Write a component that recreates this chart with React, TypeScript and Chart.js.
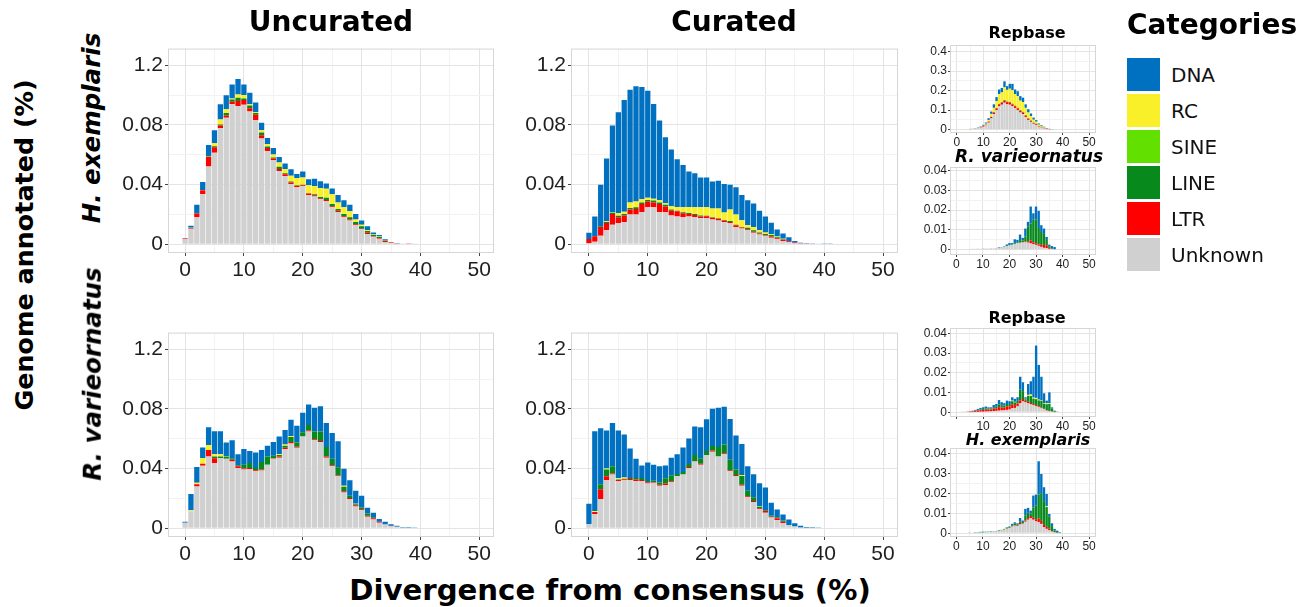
import React, { useEffect, useRef } from "react";
import { Chart, registerables } from "chart.js";

Chart.register(...registerables);

// ---------------- categories / ticks ----------------
const bins = [0, 1, 2, 3, 4, 5, 6, 7, 8, 9, 10, 11, 12, 13, 14, 15, 16, 17, 18, 19, 20, 21, 22, 23, 24, 25, 26, 27, 28, 29, 30, 31, 32, 33, 34, 35, 36, 37, 38, 39, 40, 41, 42, 43, 44, 45, 46, 47, 48, 49, 50];
const categories = ["DNA", "RC", "SINE", "LINE", "LTR", "Unknown"];
const categoryColors = ["#0070C0", "#FAF02A", "#62E000", "#07891C", "#FF0000", "#D0D0D0"];

const xMajorTicks = [0, 10, 20, 30, 40, 50];
const xMajorLabels = ["0", "10", "20", "30", "40", "50"];
const xMajorLabelsNoZero = ["", "10", "20", "30", "40", "50"];
const xMinorTicks = [5, 15, 25, 35, 45];

const mainYTicks = [0, 0.04, 0.08, 0.12];
const mainYLabels = ["0", "0.04", "0.08", "1.2"];
const mainYMinor = [0.02, 0.06, 0.1];

const repYTicks = [0, 0.1, 0.2, 0.3, 0.4];
const repYLabels = ["0", "0.1", "0.2", "0.3", "0.4"];
const repYMinor = [0.05, 0.15, 0.25, 0.35];

const smallYTicks = [0, 0.01, 0.02, 0.03, 0.04];
const smallYLabels = ["0", "0.01", "0.02", "0.03", "0.04"];
const smallYMinor = [0.005, 0.015, 0.025, 0.035];

// ---------------- H. exemplaris, uncurated ----------------
const hexUncUnknown = [0.0035, 0.0103, 0.018, 0.0334, 0.052, 0.0613, 0.0779, 0.0847, 0.094, 0.0927, 0.0934, 0.089, 0.0831, 0.0709, 0.0624, 0.0563, 0.0491, 0.0456, 0.0404, 0.0382, 0.0388, 0.0329, 0.0319, 0.0301, 0.029, 0.0247, 0.0214, 0.0181, 0.0159, 0.0127, 0.01, 0.0068, 0.005, 0.0037, 0.0015, 0.0008, 0.0005, 0.0004, 0.0002, 0.0002];
const hexUncLTR = [0.0003, 0.0005, 0.0026, 0.0028, 0.0065, 0.0037, 0.0017, 0.0015, 0.0015, 0.0033, 0.0033, 0.0022, 0.0037, 0.0022, 0.002, 0.0011, 0.0013, 0.0013, 0.0009, 0.0009, 0.0007, 0.0011, 0.0009, 0.0007, 0.0007, 0.0007, 0.0011, 0.0007, 0.0007, 0.0007, 0.0004, 0.0009, 0.0004, 0.0004, 0.0007, 0.0004, 0.0002, 0.0001, 0.0001, 0];
const hexUncLINE = [0, 0, 0.0003, 0, 0.0002, 0.0007, 0.0007, 0.0017, 0.0015, 0.0022, 0.0009, 0.0017, 0.0011, 0.0017, 0.0011, 0.0007, 0.0015, 0.0007, 0.0007, 0.0004, 0.0004, 0.0002, 0.0007, 0.0009, 0.0015, 0.0015, 0.0011, 0.0015, 0.0015, 0.0015, 0.0017, 0.0011, 0.0007, 0.0007, 0.0002, 0, 0, 0, 0, 0];
const hexUncSINE: number[] = [];
const hexUncRC = [0, 0.0003, 0, 0.0002, 0.0004, 0.002, 0.0033, 0.0026, 0.0007, 0.0022, 0.0024, 0.0009, 0.0007, 0.0015, 0.0015, 0.002, 0.0028, 0.0028, 0.0039, 0.0048, 0.0048, 0.0053, 0.0055, 0.0059, 0.0059, 0.0065, 0.0044, 0.0044, 0.0039, 0.0017, 0.0009, 0.0007, 0.0004, 0.0004, 0.0003, 0.0001, 0, 0, 0, 0];
const hexUncDNA = [0.0002, 0.0012, 0.0055, 0.0053, 0.0074, 0.0087, 0.0102, 0.0094, 0.0094, 0.0104, 0.0071, 0.0077, 0.0063, 0.0051, 0.0041, 0.0044, 0.0037, 0.0037, 0.0044, 0.0028, 0.004, 0.0041, 0.0048, 0.0046, 0.0035, 0.0039, 0.005, 0.0048, 0.0044, 0.0037, 0.0029, 0.0026, 0.0013, 0.0009, 0.0006, 0.0002, 0.0001, 0, 0, 0];

// ---------------- H. exemplaris, curated ----------------
const hexCurUnknown = [0.0007, 0.0017, 0.0057, 0.0094, 0.0131, 0.0142, 0.0148, 0.0199, 0.0199, 0.0214, 0.0247, 0.0247, 0.0214, 0.0214, 0.0192, 0.0185, 0.0181, 0.0185, 0.0181, 0.0175, 0.0175, 0.0166, 0.0159, 0.0148, 0.0142, 0.0116, 0.0105, 0.0094, 0.0076, 0.0065, 0.0057, 0.0044, 0.0033, 0.0022, 0.0013, 0.0007, 0.0004, 0.0002, 0.0001, 0.0001, 0, 0];
const hexCurLTR = [0.0028, 0.0037, 0.0059, 0.0048, 0.0072, 0.0039, 0.0044, 0.0033, 0.0037, 0.0055, 0.0039, 0.0033, 0.0055, 0.0039, 0.0033, 0.0035, 0.0026, 0.0017, 0.0015, 0.0011, 0.0013, 0.0011, 0.0011, 0.0011, 0.0007, 0.0011, 0.0007, 0.0007, 0.0007, 0.0007, 0.0004, 0.0007, 0.0007, 0.0007, 0.0007, 0.0004, 0.0002, 0.0001, 0.0001, 0, 0, 0];
const hexCurLINE = [0, 0, 0.0004, 0.0007, 0.0007, 0.0009, 0.0011, 0.0011, 0.0011, 0.0011, 0.0011, 0.0013, 0.0011, 0.0011, 0.0007, 0.0004, 0.0007, 0.0007, 0.0007, 0.0007, 0.0002, 0.0004, 0.0004, 0.0004, 0.0007, 0.0004, 0.0004, 0.0009, 0.0011, 0.0007, 0.0007, 0.0011, 0.0007, 0.0004, 0, 0, 0, 0, 0, 0, 0, 0];
const hexCurSINE: number[] = [];
const hexCurRC = [0, 0, 0, 0.0004, 0.0004, 0.0017, 0.0015, 0.0037, 0.0039, 0.0022, 0.0015, 0.0011, 0.0015, 0.0011, 0.0022, 0.0026, 0.0033, 0.0041, 0.0044, 0.0055, 0.0059, 0.0059, 0.0065, 0.005, 0.0076, 0.0068, 0.0044, 0.0017, 0.0022, 0.0015, 0.0011, 0.0007, 0.0004, 0.0004, 0, 0, 0, 0, 0, 0, 0, 0];
const hexCurDNA = [0.0041, 0.0131, 0.0279, 0.0421, 0.0582, 0.0677, 0.0749, 0.0756, 0.0772, 0.0752, 0.0716, 0.0636, 0.0534, 0.0441, 0.0381, 0.032, 0.0283, 0.0237, 0.0229, 0.0199, 0.0198, 0.0181, 0.0186, 0.0191, 0.0167, 0.0183, 0.017, 0.0168, 0.0157, 0.0131, 0.0107, 0.0074, 0.0048, 0.0035, 0.0026, 0.0011, 0.0004, 0.0001, 0.0001, 0.0001, 0.0001, 0.0001];

// ---------------- R. varieornatus, uncurated ----------------
const rvaUncUnknown = [0.0037, 0.0113, 0.0279, 0.0419, 0.048, 0.0436, 0.0469, 0.0465, 0.0447, 0.0404, 0.0393, 0.0397, 0.0382, 0.0386, 0.0425, 0.0465, 0.0473, 0.053, 0.0567, 0.0539, 0.0615, 0.0648, 0.0589, 0.0578, 0.0473, 0.0415, 0.0349, 0.024, 0.0196, 0.0146, 0.012, 0.0076, 0.0059, 0.0037, 0.0024, 0.0015, 0.0009, 0.0004, 0, 0];
const rvaUncLTR = [0, 0, 0.0015, 0.0013, 0.0044, 0.0033, 0, 0, 0.0011, 0.0011, 0.0007, 0.0007, 0.0007, 0.0007, 0, 0.0004, 0.0007, 0.0009, 0.0011, 0.0007, 0, 0.0007, 0.0007, 0.0007, 0.0007, 0.0007, 0.0004, 0.0007, 0.0007, 0.0007, 0.0007, 0.0007, 0.0007, 0.0007, 0, 0.0002, 0, 0, 0, 0];
const rvaUncLINE = [0, 0, 0, 0, 0, 0.0011, 0.0011, 0.0015, 0.0011, 0.0007, 0.0026, 0.0033, 0.0015, 0.005, 0.0055, 0.0017, 0.0011, 0.0013, 0.0033, 0.0028, 0.0028, 0.0037, 0.0052, 0.0063, 0.0065, 0.0044, 0.0055, 0.0031, 0.0015, 0.0007, 0.0011, 0.0015, 0.0007, 0, 0, 0, 0, 0, 0, 0];
const rvaUncSINE: number[] = [];
const rvaUncRC = [0, 0.0007, 0.0011, 0.0037, 0.0033, 0.0015, 0.0015, 0.0004, 0, 0, 0, 0, 0, 0, 0, 0, 0.0007, 0.0009, 0.0007, 0, 0, 0, 0, 0, 0, 0, 0, 0.0007, 0, 0.0004, 0, 0, 0, 0, 0, 0, 0, 0, 0, 0];
const rvaUncDNA = [0.0007, 0.0109, 0.0105, 0.0072, 0.012, 0.0155, 0.0155, 0.009, 0.012, 0.0073, 0.0104, 0.008, 0.0104, 0.0081, 0.0072, 0.0092, 0.0117, 0.0098, 0.0109, 0.0113, 0.0131, 0.0137, 0.0159, 0.017, 0.016, 0.0172, 0.0175, 0.0113, 0.0103, 0.0087, 0.008, 0.0039, 0.003, 0.0017, 0.002, 0.0009, 0.0008, 0.0004, 0.0007, 0.0001];

// ---------------- R. varieornatus, curated ----------------
const rvaCurUnknown = [0.0028, 0.0094, 0.0196, 0.0321, 0.036, 0.0316, 0.0321, 0.0323, 0.0316, 0.0316, 0.0299, 0.0305, 0.0284, 0.029, 0.031, 0.0349, 0.036, 0.0404, 0.0447, 0.0425, 0.0491, 0.0513, 0.048, 0.0495, 0.0382, 0.0349, 0.0284, 0.0207, 0.0175, 0.0127, 0.0103, 0.0072, 0.0055, 0.0033, 0.0022, 0.0011, 0.0004, 0.0002, 0, 0];
const rvaCurLTR = [0, 0.0015, 0.0065, 0.0028, 0.0007, 0.0007, 0.0007, 0.0007, 0.0011, 0.0007, 0.0007, 0.0004, 0.0007, 0.0009, 0.0004, 0, 0, 0.0007, 0.0004, 0.0007, 0, 0.0007, 0, 0.0007, 0.0007, 0.0007, 0.0007, 0.0007, 0.0007, 0.0007, 0.0013, 0.0004, 0.0011, 0.0011, 0, 0, 0, 0, 0, 0];
const rvaCurLINE = [0, 0, 0.0033, 0.0044, 0.0048, 0.0004, 0.0004, 0.0007, 0.0009, 0.0013, 0.0011, 0.0009, 0.0015, 0.0035, 0.0041, 0.0015, 0.0017, 0.002, 0.0039, 0.0033, 0.0026, 0.0031, 0.0065, 0.0059, 0.007, 0.0037, 0.0059, 0.0037, 0.0026, 0.0009, 0.0004, 0.0007, 0.0007, 0.0007, 0, 0, 0, 0, 0, 0];
const rvaCurSINE: number[] = [];
const rvaCurRC = [0, 0.0007, 0, 0.0007, 0, 0.0007, 0.0007, 0, 0, 0, 0, 0, 0, 0, 0, 0, 0, 0, 0, 0, 0, 0, 0, 0, 0, 0, 0.0007, 0, 0, 0.0004, 0, 0, 0, 0, 0, 0, 0, 0, 0, 0];
const rvaCurDNA = [0.0136, 0.0534, 0.0376, 0.0255, 0.029, 0.0321, 0.0289, 0.0198, 0.0129, 0.0085, 0.0124, 0.0107, 0.0109, 0.0087, 0.0118, 0.0131, 0.0164, 0.017, 0.0192, 0.0211, 0.0214, 0.025, 0.0262, 0.0253, 0.0273, 0.0229, 0.0207, 0.0164, 0.0153, 0.0155, 0.0153, 0.0087, 0.0052, 0.0041, 0.0037, 0.0022, 0.0013, 0.0005, 0.0007, 0.0001];

// ---------------- H. exemplaris genome, Repbase library ----------------
const hexRepUnknown = [0, 0, 0, 0, 0, 0.002, 0.003, 0.004, 0.006, 0.009, 0.014, 0.022, 0.036, 0.058, 0.08, 0.1, 0.12, 0.128, 0.138, 0.13, 0.128, 0.12, 0.11, 0.1, 0.088, 0.08, 0.064, 0.05, 0.04, 0.03, 0.024, 0.015, 0.011, 0.006, 0.003, 0.002, 0.001];
const hexRepLTR = [0, 0, 0, 0, 0, 0, 0, 0.001, 0.001, 0.002, 0.003, 0.004, 0.005, 0.007, 0.008, 0.009, 0.01, 0.01, 0.011, 0.011, 0.011, 0.01, 0.01, 0.009, 0.008, 0.008, 0.007, 0.006, 0.005, 0.004, 0.004, 0.003, 0.003, 0.003, 0.002, 0.001, 0];
const hexRepLINE = [0, 0, 0, 0, 0, 0, 0, 0, 0, 0, 0, 0, 0.001, 0.001, 0.002, 0.002, 0.002, 0.003, 0.003, 0.003, 0.003, 0.003, 0.003, 0.003, 0.003, 0.003, 0.003, 0.002, 0.002, 0.002, 0.002, 0.001, 0.001, 0.001, 0, 0, 0];
const hexRepSINE: number[] = [];
const hexRepRC = [0, 0, 0, 0, 0, 0.001, 0.001, 0.001, 0.002, 0.002, 0.003, 0.005, 0.008, 0.015, 0.022, 0.035, 0.05, 0.05, 0.065, 0.06, 0.068, 0.07, 0.06, 0.06, 0.05, 0.05, 0.038, 0.03, 0.022, 0.015, 0.011, 0.007, 0.005, 0.003, 0.001, 0.001, 0];
const hexRepDNA = [0, 0, 0, 0, 0, 0.001, 0.001, 0.001, 0.002, 0.003, 0.005, 0.006, 0.009, 0.012, 0.018, 0.021, 0.024, 0.023, 0.031, 0.019, 0.025, 0.032, 0.023, 0.025, 0.023, 0.023, 0.018, 0.017, 0.014, 0.011, 0.008, 0.006, 0.004, 0.002, 0.002, 0.001, 0.001];

// ---------------- H. exemplaris genome, R. varieornatus library ----------------
const hexRvaUnknown = [0, 0, 0.0003, 0.0003, 0.0004, 0.0004, 0.0005, 0.0005, 0.0006, 0.0005, 0.0008, 0.0007, 0.0006, 0.0008, 0.0007, 0.0009, 0.001, 0.0011, 0.0013, 0.0018, 0.0022, 0.0025, 0.003, 0.0033, 0.0035, 0.0037, 0.0038, 0.0036, 0.0032, 0.0028, 0.0025, 0.002, 0.0015, 0.001, 0.0008, 0.0005, 0.0004, 0.0003];
const hexRvaLTR = [0, 0, 0, 0, 0, 0, 0, 0, 0, 0, 0, 0, 0, 0, 0, 0, 0, 0, 0, 0, 0, 0, 0, 0, 0.0002, 0.0002, 0.0004, 0.0005, 0.0015, 0.001, 0.0008, 0.0007, 0.001, 0.0015, 0.0015, 0.0005, 0, 0];
const hexRvaLINE = [0, 0, 0, 0, 0, 0, 0, 0, 0, 0, 0, 0, 0, 0, 0, 0, 0, 0.0002, 0.0002, 0.0002, 0.0002, 0.0002, 0.0005, 0.0005, 0.0012, 0.0008, 0.0025, 0.0075, 0.0085, 0.0116, 0.012, 0.0083, 0.0065, 0.0055, 0.0027, 0.0008, 0.0003, 0];
const hexRvaSINE: number[] = [];
const hexRvaRC: number[] = [];
const hexRvaDNA = [0, 0, 0, 0, 0, 0, 0, 0, 0, 0, 0, 0, 0, 0, 0, 0, 0.0003, 0, 0.0002, 0.0007, 0.001, 0.0007, 0.0018, 0.0012, 0.0028, 0.0013, 0.004, 0.0025, 0.0086, 0.003, 0.0065, 0.0086, 0.0034, 0.0027, 0.0015, 0.0008, 0.0012, 0.0011];

// ---------------- R. varieornatus genome, Repbase library ----------------
const rvaRepUnknown = [0, 0, 0, 0, 0, 0.0001, 0.0001, 0.0002, 0.0002, 0.0003, 0.0003, 0.0004, 0.0004, 0.0005, 0.0006, 0.0007, 0.0008, 0.0009, 0.001, 0.0012, 0.0014, 0.002, 0.0022, 0.003, 0.0045, 0.0055, 0.005, 0.0045, 0.004, 0.0035, 0.003, 0.0025, 0.002, 0.0015, 0.0008, 0.0005, 0.0003, 0.0001, 0];
const rvaRepLTR = [0, 0, 0.0002, 0.0003, 0.0003, 0.0003, 0.0004, 0.0005, 0.0007, 0.0008, 0.0009, 0.001, 0.0009, 0.0009, 0.0012, 0.0013, 0.0018, 0.0015, 0.0013, 0.0018, 0.0016, 0.002, 0.0014, 0.0014, 0.0015, 0.0012, 0.0008, 0.0008, 0.0007, 0.0006, 0.0006, 0.0005, 0.0004, 0.0003, 0.0003, 0.0002, 0.0001, 0, 0];
const rvaRepLINE = [0, 0, 0, 0, 0, 0, 0.0001, 0.0002, 0.0003, 0.0004, 0.0005, 0.0006, 0.0005, 0.0005, 0.0008, 0.0008, 0.0014, 0.0012, 0.0011, 0.0012, 0.0012, 0.0016, 0.0014, 0.0014, 0.0055, 0.004, 0.0008, 0.003, 0.0035, 0.0028, 0.003, 0.003, 0.0035, 0.0025, 0.003, 0.0035, 0.0015, 0.0005, 0.0002];
const rvaRepSINE: number[] = [];
const rvaRepRC = [0, 0, 0, 0, 0, 0, 0, 0, 0, 0, 0, 0, 0, 0, 0, 0, 0, 0, 0, 0, 0, 0.0003, 0.0003, 0, 0, 0, 0.0002, 0.0005, 0.0008, 0.0005, 0.0007, 0.0004, 0.0003, 0.0003, 0.0005, 0.0003];
const rvaRepDNA = [0, 0, 0, 0, 0.0001, 0.0001, 0.0002, 0.0003, 0.0005, 0.0007, 0.0008, 0.0009, 0.0007, 0.0006, 0.0011, 0.0014, 0.0022, 0.0015, 0.0012, 0.0017, 0.0014, 0.0017, 0.0015, 0.0018, 0.0065, 0.0045, 0.0008, 0.0055, 0.0067, 0.0106, 0.0265, 0.0176, 0.0118, 0.005, 0.0013, 0.0056, 0.0006, 0.0002, 0.0001];

// ---------------- R. varieornatus genome, H. exemplaris library ----------------
const rvaHexUnknown = [0, 0, 0, 0, 0, 0.0002, 0.0003, 0.0003, 0.0003, 0.0004, 0.0004, 0.0005, 0.0006, 0.0006, 0.0007, 0.0009, 0.0011, 0.0013, 0.0016, 0.0022, 0.0026, 0.0033, 0.0038, 0.0036, 0.0044, 0.0048, 0.0058, 0.0068, 0.0075, 0.0068, 0.006, 0.0055, 0.0047, 0.003, 0.0022, 0.0015, 0.0008, 0.0004, 0.0002, 0.0001];
const rvaHexLTR = [0, 0, 0, 0, 0, 0, 0, 0, 0, 0, 0, 0, 0, 0, 0, 0, 0, 0, 0.0001, 0.0001, 0.0001, 0.0002, 0.0003, 0.0002, 0.0008, 0.0003, 0.0006, 0.0008, 0.0012, 0.001, 0.0008, 0.002, 0.0015, 0.0012, 0.001, 0.0008, 0.0003, 0.0001];
const rvaHexLINE = [0, 0, 0, 0, 0, 0, 0, 0.0001, 0.0001, 0.0002, 0.0003, 0.0002, 0.0001, 0.0002, 0.0001, 0.0001, 0.0002, 0.0002, 0.0002, 0.0002, 0.0003, 0.0005, 0.0007, 0.0005, 0.0008, 0.0006, 0.0027, 0.0027, 0.0012, 0.0052, 0.0072, 0.012, 0.014, 0.012, 0.01, 0.006, 0.0025, 0.0008, 0.0004, 0.0001];
const rvaHexSINE = [0, 0, 0, 0, 0, 0, 0, 0, 0, 0, 0, 0, 0, 0, 0, 0, 0, 0, 0, 0.0002];
const rvaHexRC = [0, 0, 0, 0, 0, 0, 0, 0, 0, 0, 0, 0, 0, 0, 0, 0, 0, 0.0001, 0.0002, 0, 0, 0, 0, 0, 0, 0, 0, 0, 0, 0, 0, 0, 0, 0, 0.0004];
const rvaHexDNA = [0, 0, 0, 0, 0, 0.0001, 0, 0.0001, 0.0001, 0.0001, 0.0001, 0.0001, 0.0001, 0.0001, 0.0001, 0.0001, 0.0002, 0.0001, 0.0001, 0.0003, 0.0004, 0.0007, 0.0007, 0.0007, 0.0017, 0.0007, 0.0032, 0.0025, 0.0015, 0.006, 0.0055, 0.0168, 0.0097, 0.007, 0.0062, 0.0014, 0.0014, 0.0009, 0.0007, 0.0003];

// ---------------- rendering ----------------
const TITLE_FONT = "'DejaVu Sans', Verdana, sans-serif";
const TICK_FONT = "'Liberation Sans', Arial, sans-serif";

type Series = { unknown: number[]; ltr: number[]; line: number[]; sine: number[]; rc: number[]; dna: number[] };

type PanelProps = {
  left: number; top: number; right: number; bottom: number;
  xMin: number; xMax: number; yMin: number; yMax: number;
  yTicks: number[]; yLabels: string[]; yMinor: number[];
  xLabels: string[];
  series: Series;
  small?: boolean;
};

const panelBorder = {
  id: "panelBorder",
  beforeDatasetsDraw(chart: any) {
    const { ctx, chartArea: a } = chart;
    ctx.save();
    ctx.strokeStyle = "#d6d6d6";
    ctx.lineWidth = 1;
    ctx.strokeRect(a.left + 0.5, a.top + 0.5, a.right - a.left - 1, a.bottom - a.top - 1);
    ctx.restore();
  },
};

function Panel(p: PanelProps) {
  const ref = useRef<HTMLCanvasElement>(null);
  const small = !!p.small;
  const yW = small ? 32 : 62;
  const xH = small ? 15 : 34;
  const padT = 10;
  const padR = 14;
  const W = p.right - p.left + yW + padR;
  const H = p.bottom - p.top + padT + xH;

  useEffect(() => {
    if (!ref.current) return;
    // stacking order bottom -> top
    const stack: [number[], number][] = [
      [p.series.unknown, 5],
      [p.series.ltr, 4],
      [p.series.line, 3],
      [p.series.sine, 2],
      [p.series.rc, 1],
      [p.series.dna, 0],
    ];
    const datasets = stack.map(([arr, ci]) => ({
      label: categories[ci],
      data: bins.map((b, i) => ({ x: b, y: arr[i] ?? 0 })),
      backgroundColor: categoryColors[ci],
      borderWidth: 0,
      barPercentage: 0.9,
      categoryPercentage: 1,
    }));
    const tickFont = { family: TICK_FONT, size: small ? 12 : 21 };
    const isIn = (list: number[], v: number) => list.some((t) => Math.abs(t - v) < 1e-9);
    const chart = new Chart(ref.current, {
      type: "bar",
      data: { datasets } as any,
      options: {
        animation: false,
        responsive: false,
        maintainAspectRatio: false,
        layout: { autoPadding: false, padding: { top: padT, right: padR, left: 0, bottom: 0 } },
        plugins: { legend: { display: false }, tooltip: { enabled: false } },
        scales: {
          x: {
            type: "linear",
            stacked: true,
            offset: false,
            min: p.xMin,
            max: p.xMax,
            afterBuildTicks: (s: any) => {
              s.ticks = [...xMajorTicks, ...xMinorTicks].sort((a, b) => a - b).map((v) => ({ value: v }));
            },
            afterFit: (s: any) => {
              s.height = xH;
            },
            ticks: {
              autoSkip: false,
              maxRotation: 0,
              padding: small ? 0 : 2,
              font: tickFont,
              color: "#1e1e1e",
              callback: (v: any) => {
                const i = xMajorTicks.indexOf(Number(v));
                return i >= 0 ? p.xLabels[i] : "";
              },
            },
            grid: {
              offset: false,
              color: (c: any) => (isIn(xMajorTicks, c.tick?.value) ? "#e4e4e4" : "#f2f2f2"),
              tickColor: (c: any) => (isIn(xMajorTicks, c.tick?.value) ? "#444" : "rgba(0,0,0,0)"),
              tickLength: small ? 2 : 3,
              lineWidth: 1,
            },
            border: { display: false },
          },
          y: {
            type: "linear",
            stacked: true,
            min: p.yMin,
            max: p.yMax,
            afterBuildTicks: (s: any) => {
              s.ticks = [...p.yTicks, ...p.yMinor].sort((a, b) => a - b).map((v) => ({ value: v }));
            },
            afterFit: (s: any) => {
              s.width = yW;
            },
            ticks: {
              autoSkip: false,
              padding: small ? 1 : 2,
              font: tickFont,
              color: "#1e1e1e",
              callback: (v: any) => {
                const n = Number(v);
                const i = p.yTicks.findIndex((t) => Math.abs(t - n) < 1e-9);
                return i >= 0 ? p.yLabels[i] : "";
              },
            },
            grid: {
              color: (c: any) => (isIn(p.yTicks, c.tick?.value) ? "#e4e4e4" : "#f2f2f2"),
              tickColor: (c: any) => (isIn(p.yTicks, c.tick?.value) ? "#444" : "rgba(0,0,0,0)"),
              tickLength: small ? 2 : 3,
              lineWidth: 1,
            },
            border: { display: false },
          },
        },
      } as any,
      plugins: [panelBorder],
    });
    return () => chart.destroy();
  }, []);

  return (
    <canvas
      ref={ref}
      width={W}
      height={H}
      style={{ position: "absolute", left: p.left - yW, top: p.top - padT, width: W, height: H }}
    />
  );
}

function Text(props: { x: number; y: number; text: string; size: number; italic?: boolean; rotate?: boolean; bold?: boolean }) {
  const bold = props.bold !== false;
  return (
    <div
      style={{
        position: "absolute",
        left: props.x,
        top: props.y,
        transform: `translate(-50%, -50%)${props.rotate ? " rotate(-90deg)" : ""}`,
        fontFamily: TITLE_FONT,
        fontWeight: bold ? 700 : 400,
        fontStyle: props.italic ? "italic" : "normal",
        fontSize: props.size,
        lineHeight: 1,
        whiteSpace: "nowrap",
        color: "#000",
      }}
    >
      {props.text}
    </div>
  );
}

const legendTops = [58, 94, 130, 166, 202, 238];

export default function App() {
  const mainY = { yMin: -0.0059, yMax: 0.1311, yTicks: mainYTicks, yLabels: mainYLabels, yMinor: mainYMinor };
  return (
    <div style={{ position: "absolute", left: 0, top: 0, width: 1309, height: 607, background: "#fff", overflow: "hidden" }}>
      <Panel left={168} top={44} right={494} bottom={253} xMin={-2.9} xMax={52.5} {...mainY} xLabels={xMajorLabels}
        series={{ unknown: hexUncUnknown, ltr: hexUncLTR, line: hexUncLINE, sine: hexUncSINE, rc: hexUncRC, dna: hexUncDNA }} />
      <Panel left={571} top={44} right={898} bottom={253} xMin={-3.05} xMax={52.55} {...mainY} xLabels={xMajorLabels}
        series={{ unknown: hexCurUnknown, ltr: hexCurLTR, line: hexCurLINE, sine: hexCurSINE, rc: hexCurRC, dna: hexCurDNA }} />
      <Panel left={168} top={328} right={494} bottom={537} xMin={-2.9} xMax={52.5} {...mainY} xLabels={xMajorLabels}
        series={{ unknown: rvaUncUnknown, ltr: rvaUncLTR, line: rvaUncLINE, sine: rvaUncSINE, rc: rvaUncRC, dna: rvaUncDNA }} />
      <Panel left={571} top={328} right={898} bottom={537} xMin={-3.05} xMax={52.55} {...mainY} xLabels={xMajorLabels}
        series={{ unknown: rvaCurUnknown, ltr: rvaCurLTR, line: rvaCurLINE, sine: rvaCurSINE, rc: rvaCurRC, dna: rvaCurDNA }} />

      <Panel small left={950} top={45} right={1096} bottom={133} xMin={-2.6} xMax={52.6} yMin={-0.017} yMax={0.434}
        yTicks={repYTicks} yLabels={repYLabels} yMinor={repYMinor} xLabels={xMajorLabels}
        series={{ unknown: hexRepUnknown, ltr: hexRepLTR, line: hexRepLINE, sine: hexRepSINE, rc: hexRepRC, dna: hexRepDNA }} />
      <Panel small left={950} top={167} right={1096} bottom={255} xMin={-2.4} xMax={52.6} yMin={-0.0026} yMax={0.0417}
        yTicks={smallYTicks} yLabels={smallYLabels} yMinor={smallYMinor} xLabels={xMajorLabels}
        series={{ unknown: hexRvaUnknown, ltr: hexRvaLTR, line: hexRvaLINE, sine: hexRvaSINE, rc: hexRvaRC, dna: hexRvaDNA }} />
      <Panel small left={950} top={328} right={1096} bottom={417} xMin={-2.5} xMax={52.6} yMin={-0.0024} yMax={0.0427}
        yTicks={smallYTicks} yLabels={smallYLabels} yMinor={smallYMinor} xLabels={xMajorLabelsNoZero}
        series={{ unknown: rvaRepUnknown, ltr: rvaRepLTR, line: rvaRepLINE, sine: rvaRepSINE, rc: rvaRepRC, dna: rvaRepDNA }} />
      <Panel small left={950} top={448} right={1096} bottom={537} xMin={-2.4} xMax={52.6} yMin={-0.0019} yMax={0.043}
        yTicks={smallYTicks} yLabels={smallYLabels} yMinor={smallYMinor} xLabels={xMajorLabels}
        series={{ unknown: rvaHexUnknown, ltr: rvaHexLTR, line: rvaHexLINE, sine: rvaHexSINE, rc: rvaHexRC, dna: rvaHexDNA }} />

      <Text x={331} y={22} text="Uncurated" size={28} />
      <Text x={734} y={22} text="Curated" size={28} />
      <Text x={1027} y={33} text="Repbase" size={16} />
      <Text x={1029} y={156} text="R. varieornatus" size={17} italic />
      <Text x={1027} y={318} text="Repbase" size={16} />
      <Text x={1028} y={440} text="H. exemplaris" size={16} italic />

      <Text x={25} y={245} text="Genome annotated (%)" size={25.4} rotate />
      <Text x={92} y={128} text="H. exemplaris" size={24.5} italic rotate />
      <Text x={93} y={374} text="R. varieornatus" size={24.5} italic rotate />
      <Text x={610} y={591} text="Divergence from consensus (%)" size={29.2} />

      <Text x={1212} y={25} text="Categories" size={28} />
      {categories.map((c, i) => (
        <React.Fragment key={c}>
          <div style={{ position: "absolute", left: 1127, top: legendTops[i], width: 33, height: 33, background: categoryColors[i] }} />
          <div
            style={{
              position: "absolute",
              left: 1171,
              top: legendTops[i] + 16.5,
              transform: "translateY(-50%)",
              fontFamily: TITLE_FONT,
              fontSize: 20,
              lineHeight: 1,
              color: "#111",
              whiteSpace: "nowrap",
            }}
          >
            {c}
          </div>
        </React.Fragment>
      ))}
    </div>
  );
}
